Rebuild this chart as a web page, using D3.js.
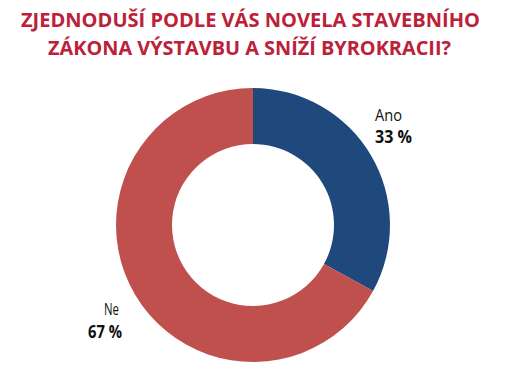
<!DOCTYPE html>
<html>
<head>
<meta charset="utf-8">
<script src="https://cdn.jsdelivr.net/npm/d3@7"></script>
<style>
  body { margin: 0; background: #fff; }
  svg { display: block; }
</style>
</head>
<body>
<svg width="511" height="391"></svg>
<script>
// survey answers
const categories = ['Ano', 'Ne'];
const values = [33, 67];
const valueLabels = ['33 %', '67 %'];
const colors = ['#1f497d', '#c0504d'];
const titleLines = ['ZJEDNODUŠÍ PODLE VÁS NOVELA STAVEBNÍHO', 'ZÁKONA VÝSTAVBU A SNÍŽÍ BYROKRACII?'];

const svg = d3.select('svg');

// title, two centered lines
const titleWidths = [459, 403];
svg.selectAll('text.title')
  .data(titleLines)
  .enter().append('text')
    .attr('class', 'title')
    .attr('x', (d, i) => i === 0 ? 21 : 48)
    .attr('y', (d, i) => 27 + i * 28)
    .attr('textLength', (d, i) => titleWidths[i])
    .attr('lengthAdjust', 'spacingAndGlyphs')
    .style('font-family', '"Open Sans", sans-serif')
    .style('font-weight', 'bold')
    .style('font-size', '20px')
    .style('fill', '#bb2139')
    .text(d => d);

// donut
const cx = 253, cy = 225;
const outerR = 137, innerR = 81;

const pie = d3.pie().sort(null).value(d => d);
const arc = d3.arc().innerRadius(innerR).outerRadius(outerR);

const g = svg.append('g')
  .attr('transform', 'translate(' + cx + ',' + cy + ')');

g.selectAll('path')
  .data(pie(values))
  .enter().append('path')
    .attr('d', arc)
    .style('fill', (d, i) => colors[i]);

// labels next to the ring (narrow font look via textLength)
const labelPos = [
  { nx: 375, ny: 121, nw: 27, vx: 375, vy: 143, vw: 37 },
  { nx: 104, ny: 315, nw: 15, vx: 88, vy: 338, vw: 34 }
];

categories.forEach((c, i) => {
  const p = labelPos[i];
  svg.append('text')
    .attr('x', p.nx)
    .attr('y', p.ny)
    .attr('textLength', p.nw)
    .attr('lengthAdjust', 'spacingAndGlyphs')
    .style('font-family', '"Open Sans", sans-serif')
    .style('font-size', '17px')
    .style('fill', '#111')
    .text(c);
  svg.append('text')
    .attr('x', p.vx)
    .attr('y', p.vy)
    .attr('textLength', p.vw)
    .attr('lengthAdjust', 'spacingAndGlyphs')
    .style('font-family', '"Open Sans", sans-serif')
    .style('font-weight', 'bold')
    .style('font-size', '17px')
    .style('fill', '#111')
    .text(valueLabels[i]);
});
</script>
</body>
</html>
